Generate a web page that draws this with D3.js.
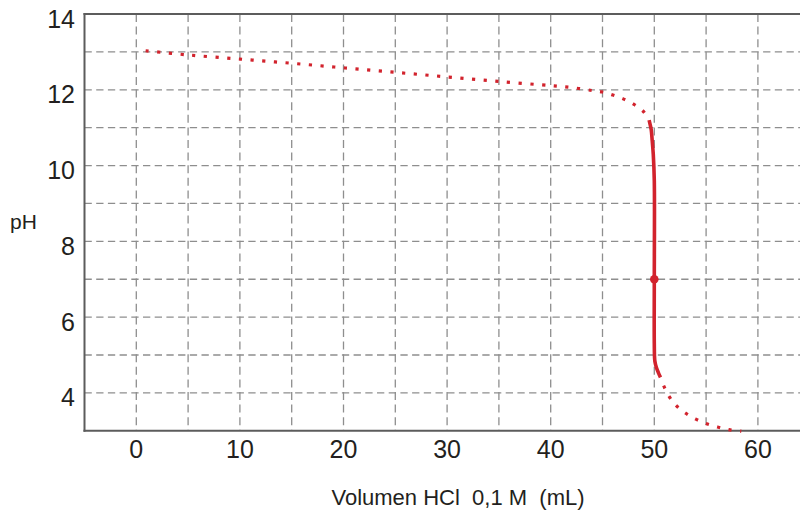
<!DOCTYPE html>
<html>
<head>
<meta charset="utf-8">
<script src="https://cdn.jsdelivr.net/npm/d3@7"></script>
<style>
  html, body { margin: 0; padding: 0; background: #fff; }
  svg { display: block; }
  text { font-family: "Liberation Sans", Arial, sans-serif; fill: #231f20; }
</style>
</head>
<body>
<svg id="chart" width="800" height="511"></svg>
<script>
// Titration curve: pH versus volume of 0.1 M HCl added
const upperVolume = [0.9, 5, 10, 15, 20, 25, 30, 35, 40, 42, 44, 45, 46, 47, 48, 48.9, 49.3];
const upperPH     = [13.03, 12.92, 12.81, 12.70, 12.58, 12.46, 12.34, 12.22, 12.11, 12.06, 11.98, 11.94, 11.86, 11.76, 11.62, 11.44, 11.30];

const steepVolume = [49.5, 49.6, 49.7, 49.8, 49.9, 50.0, 50.0, 50.0, 50.05, 50.2, 50.4, 50.6];
const steepPH     = [11.2, 11.08, 10.95, 10.65, 10.3, 9.6, 7.0, 5.3, 4.85, 4.67, 4.53, 4.41];

const lowerVolume = [50.9, 51.4, 52.1, 53.0, 54.0, 55.0, 56.1, 57.2, 58.4];
const lowerPH     = [4.19, 3.92, 3.67, 3.47, 3.31, 3.19, 3.10, 3.03, 2.99];

const equivalenceVolume = 50;
const equivalencePH = 7;

const xTicks = [0, 10, 20, 30, 40, 50, 60];
const yTicks = [4, 6, 8, 10, 12, 14];
const xGrid = d3.range(0, 61, 5);
const yGrid = d3.range(4, 14, 1);

const xLabel = "Volumen HCl  0,1 M  (mL)";
const yLabel = "pH";

const svg = d3.select("#chart");
const plotLeft = 84.5, plotRight = 809.7, plotTop = 14, plotBottom = 430.8;

const x = d3.scaleLinear().domain([-5, 65]).range([plotLeft, plotRight]);
const y = d3.scaleLinear().domain([3, 14]).range([plotBottom, plotTop]);

const red = "#d2232d";
const gridColor = "#8e8e8e";
const axisColor = "#5c5c5c";

// dashed grid
const grid = svg.append("g");
grid.selectAll("line.v").data(xGrid).join("line")
  .attr("class", "v")
  .attr("x1", d => x(d)).attr("x2", d => x(d))
  .attr("y1", plotTop).attr("y2", plotBottom)
  .attr("stroke", gridColor).attr("stroke-width", 1.3)
  .attr("stroke-dasharray", "8 4.6");
grid.selectAll("line.h").data(yGrid).join("line")
  .attr("class", "h")
  .attr("x1", plotLeft).attr("x2", 800)
  .attr("y1", d => y(d)).attr("y2", d => y(d))
  .attr("stroke", gridColor).attr("stroke-width", 1.3)
  .attr("stroke-dasharray", "7.3 4.4");

// frame: left, top and bottom lines
const frame = svg.append("g").attr("stroke", axisColor).attr("stroke-width", 2);
frame.append("line").attr("x1", plotLeft).attr("x2", plotLeft).attr("y1", plotTop - 1).attr("y2", plotBottom + 1);
frame.append("line").attr("x1", plotLeft - 1).attr("x2", 800).attr("y1", plotTop).attr("y2", plotTop);
frame.append("line").attr("x1", plotLeft - 1).attr("x2", 800).attr("y1", plotBottom).attr("y2", plotBottom);

// tick labels
svg.append("g").selectAll("text").data(xTicks).join("text")
  .attr("x", d => x(d)).attr("y", 458)
  .attr("text-anchor", "middle")
  .attr("font-size", 25)
  .text(d => d);
svg.append("g").selectAll("text").data(yTicks).join("text")
  .attr("x", 75).attr("y", d => y(d) + 13.5)
  .attr("text-anchor", "end")
  .attr("font-size", 25)
  .text(d => d);

// axis titles
svg.append("text")
  .attr("x", 458).attr("y", 505)
  .attr("text-anchor", "middle")
  .attr("font-size", 22)
  .style("white-space", "pre")
  .text(xLabel);
svg.append("text")
  .attr("x", 10).attr("y", 229)
  .attr("font-size", 21)
  .text(yLabel);

// curve
const line = d3.line()
  .x(d => x(d[0])).y(d => y(d[1]))
  .curve(d3.curveCatmullRom.alpha(0.5));

const upper = upperVolume.map((v, i) => [v, upperPH[i]]);
const steep = steepVolume.map((v, i) => [v, steepPH[i]]);
const lower = lowerVolume.map((v, i) => [v, lowerPH[i]]);

svg.append("path").datum(upper).attr("d", line)
  .attr("fill", "none").attr("stroke", red).attr("stroke-width", 3.2)
  .attr("stroke-dasharray", "3.2 8.5");
svg.append("path").datum(steep).attr("d", line)
  .attr("fill", "none").attr("stroke", red).attr("stroke-width", 3.6)
  .attr("stroke-linecap", "butt");
svg.append("path").datum(lower).attr("d", line)
  .attr("fill", "none").attr("stroke", red).attr("stroke-width", 3.2)
  .attr("stroke-dasharray", "3.2 8.5");

// equivalence point
svg.append("circle")
  .attr("cx", x(equivalenceVolume)).attr("cy", y(equivalencePH))
  .attr("r", 4.3).attr("fill", red);
</script>
</body>
</html>
